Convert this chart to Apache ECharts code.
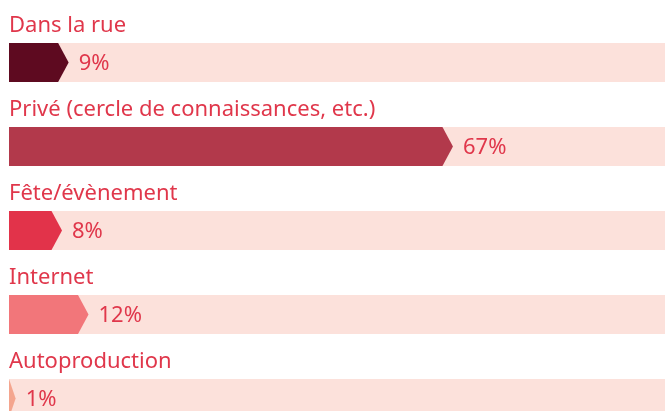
<!DOCTYPE html>
<html><head><meta charset="utf-8">
<script src="https://cdn.jsdelivr.net/npm/echarts@6/dist/echarts.min.js"></script>
<style>html,body{margin:0;padding:0;background:#fff}#c{width:665px;height:411px}</style>
</head><body><div id="c"></div>
<script>
const categories = ['Dans la rue', 'Privé (cercle de connaissances, etc.)', 'Fête/évènement', 'Internet', 'Autoproduction'];
const values = [9, 67, 8, 12, 1];
const barColors = ['#5e0a20', '#b2394b', '#e2334a', '#f2767a', '#f4a58e'];

const chart = echarts.init(document.getElementById('c'), null, {renderer: 'canvas'});
const textColor = '#e0374b';
const bandColor = '#fce1db';
const font = '"Noto Sans", sans-serif';

chart.setOption({
  animation: false,
  grid: {left: 9, right: 0, top: 0, bottom: 0, containLabel: false},
  xAxis: {type: 'value', min: 0, max: 99, show: false},
  yAxis: {type: 'value', inverse: true, min: -0.744, max: 4.149, show: false},
  series: [{
    type: 'custom',
    clip: false,
    data: values.map((v, i) => [v, i]),
    renderItem: function (params, api) {
      const idx = api.value(1);
      const val = api.value(0);
      const c0 = api.coord([0, idx]);
      const c = api.coord([val, idx]);
      const h = 39;
      const cy = c0[1];
      const y0 = cy - h / 2;
      const right = params.coordSys.x + params.coordSys.width;
      const tipX = c[0];
      const bodyEnd = Math.max(c0[0], tipX - 10.5);
      return {
        type: 'group',
        children: [
          {type: 'rect', shape: {x: c0[0], y: y0, width: right - c0[0], height: h}, style: {fill: bandColor}},
          {type: 'polygon', shape: {points: [[c0[0], y0], [bodyEnd, y0], [tipX, cy], [bodyEnd, y0 + h], [c0[0], y0 + h]]},
           style: {fill: barColors[idx]}},
          {type: 'text', style: {text: val + '%', x: tipX + 10, y: cy + 1, verticalAlign: 'middle', align: 'left',
            fill: textColor, font: '22px ' + font}},
          {type: 'text', style: {text: categories[idx], x: c0[0], y: y0 - 6, verticalAlign: 'bottom', align: 'left',
            fill: textColor, font: '22px ' + font}}
        ]
      };
    }
  }]
});
</script></body></html>
